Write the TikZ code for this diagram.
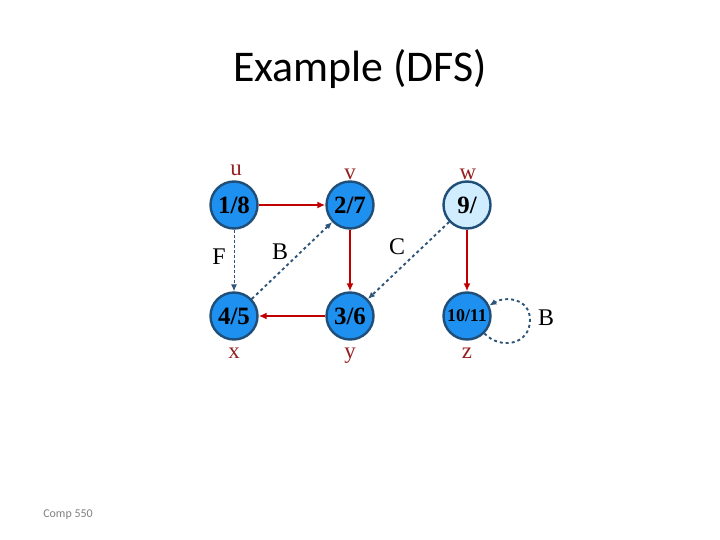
\documentclass[tikz,border=0pt]{standalone}
\usepackage{fontspec}
\setmainfont{Liberation Serif}
\newfontfamily\titlefont{Carlito}
\usetikzlibrary{arrows.meta}
\definecolor{nodefill}{RGB}{30,144,240}
\definecolor{nodeedge}{RGB}{31,78,121}
\definecolor{lightfill}{RGB}{208,236,255}
\definecolor{treered}{RGB}{192,0,0}
\definecolor{dashblue}{RGB}{47,85,120}
\definecolor{lblred}{RGB}{150,30,30}
\tikzset{
  vert/.style={circle, draw=nodeedge, line width=2.4bp, fill=nodefill, minimum size=47bp, inner sep=0pt, font=\bfseries\fontsize{25}{25}\selectfont},
  vlabel/.style={text=lblred, font=\fontsize{23}{23}\selectfont},
  tree/.style={draw=treered, line width=2.8bp, -{Latex[length=8bp,width=7bp]}},
  nontree/.style={draw=dashblue, line width=1.9bp, dashed, -{Latex[length=7bp,width=6bp]}},
  elabel/.style={font=\fontsize{24}{24}\selectfont}
}
\begin{document}
\begin{tikzpicture}[x=1bp,y=-1bp]
\useasboundingbox (0,0) rectangle (720,540);
\node[font=\titlefont\fontsize{44}{44}\selectfont, anchor=base] (title) at (360,82) {Example (DFS)};
\node[vert] (u) at (234,205) {1/8};
\node[vert] (v) at (350,205) {2/7};
\node[vert, fill=lightfill] (w) at (467,205) {9/};
\node[vert] (x) at (234,316) {4/5};
\node[vert] (y) at (350,316) {3/6};
\node[vert, font=\bfseries\fontsize{18}{18}\selectfont] (z) at (467,316) {10/11};
\node[vlabel, anchor=base] (lu) at (236,176) {u};
\node[vlabel, anchor=base] (lv) at (350,180) {v};
\node[vlabel, anchor=base] (lw) at (468,180) {w};
\node[vlabel, anchor=base] (lx) at (234,358) {x};
\node[vlabel, anchor=base] (ly) at (350,358) {y};
\node[vlabel, anchor=base] (lz) at (467,358) {z};
\draw[tree] (u) -- (v);
\draw[tree] (v) -- (y);
\draw[tree] (y) -- (x);
\draw[tree] (w) -- (z);
\draw[nontree, line width=1bp, dash pattern=on 3bp off 2bp] (u) -- (x);
\draw[nontree] (x) -- (v);
\draw[nontree] (w) -- (y);
\draw[nontree] (z.-45) .. controls (500,350) and (530,345) .. (530,320) .. controls (530,298) and (505,296) .. (z.25);
\node[elabel] (lF) at (219,257) {F};
\node[elabel] (lB) at (280,252) {B};
\node[elabel] (lC) at (397,247) {C};
\node[elabel] (lB2) at (546,318) {B};
\node[text=gray, font=\titlefont\fontsize{12}{12}\selectfont] (foot) at (68,515) {Comp 550};
\end{tikzpicture}
\end{document}
